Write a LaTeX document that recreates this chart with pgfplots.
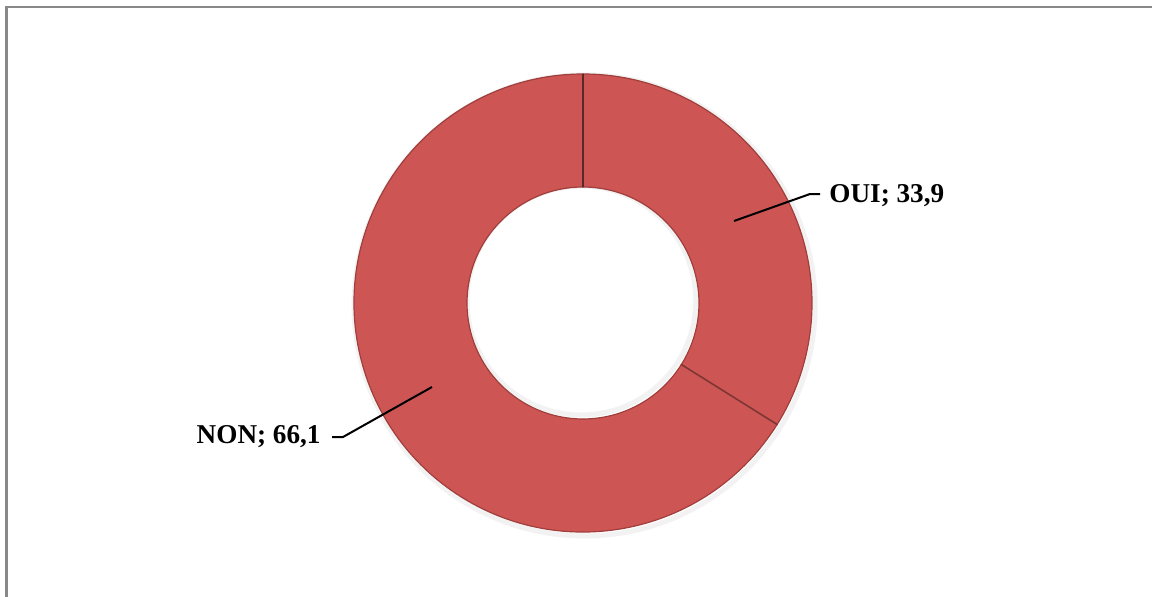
\documentclass[border=0pt]{standalone}
\usepackage{fontspec}
\setmainfont{Liberation Serif}
\usepackage{pgfplots}
\usepackage{pgfplotstable}
\pgfplotsset{compat=1.18}
\definecolor{slice}{RGB}{205,86,84}
\definecolor{sliceedge}{RGB}{160,62,60}
\definecolor{sepline}{RGB}{90,40,38}
\definecolor{framegray}{RGB}{137,137,137}
\pgfplotstableread{
label value
OUI 33.9
NON 66.1
}\donutdata
\begin{document}
\begin{tikzpicture}
\pgfplotstablegetelem{0}{value}\of\donutdata
\let\vOUI\pgfplotsretval
\pgfplotstablegetelem{1}{value}\of\donutdata
\let\vNON\pgfplotsretval
\pgfmathsetmacro\aOUI{90-3.6*\vOUI}
\pgfmathsetmacro\aNON{\aOUI-3.6*\vNON}
\begin{axis}[x=0.5pt,y=0.5pt,xmin=0,xmax=1152,ymin=0,ymax=596,
  hide axis,scale only axis,clip=true]
  \path (axis cs:0,0) rectangle (axis cs:1152,596);
  % frame
  \draw[framegray,line width=1pt] (axis cs:6.5,-20) -- (axis cs:6.5,588.5) -- (axis cs:1170,588.5);
  \begin{scope}[shift={(axis cs:583,293)}]
    % soft shadow
    \draw[black,opacity=0.05,line width=2.5pt] (0.8pt,-1.2pt) circle[radius=115.3pt];
    \draw[black,opacity=0.05,line width=2.5pt] (-0.8pt,1.2pt) circle[radius=57.2pt];
    \filldraw[fill=slice,draw=sliceedge,line width=0.6pt]
      (90:114.5pt) arc[start angle=90,end angle=\aOUI,radius=114.5pt]
      -- (\aOUI:58pt) arc[start angle=\aOUI,end angle=90,radius=58pt] -- cycle;
    \filldraw[fill=slice,draw=sliceedge,line width=0.6pt]
      (\aOUI:114.5pt) arc[start angle=\aOUI,end angle=\aNON,radius=114.5pt]
      -- (\aNON:58pt) arc[start angle=\aNON,end angle=\aOUI,radius=58pt] -- cycle;
    \draw[sepline,line width=0.7pt] (90:58pt) -- (90:114.5pt);
    \draw[sepline!70!slice,line width=0.7pt] (\aOUI:58pt) -- (\aOUI:114.5pt);
  \end{scope}
  % leader lines
  \draw[black,line width=1pt] (axis cs:734,375) -- (axis cs:810,402) -- (axis cs:820,402);
  \draw[black,line width=1pt] (axis cs:432,209) -- (axis cs:343,159) -- (axis cs:332,159);
  \node[anchor=west,font=\fontsize{13.6}{15}\selectfont\bfseries,inner sep=0pt] at (axis cs:829,400) {OUI; 33,9};
  \node[anchor=east,font=\fontsize{13.6}{15}\selectfont\bfseries,inner sep=0pt] at (axis cs:321,159) {NON; 66,1};
\end{axis}
\end{tikzpicture}
\end{document}
